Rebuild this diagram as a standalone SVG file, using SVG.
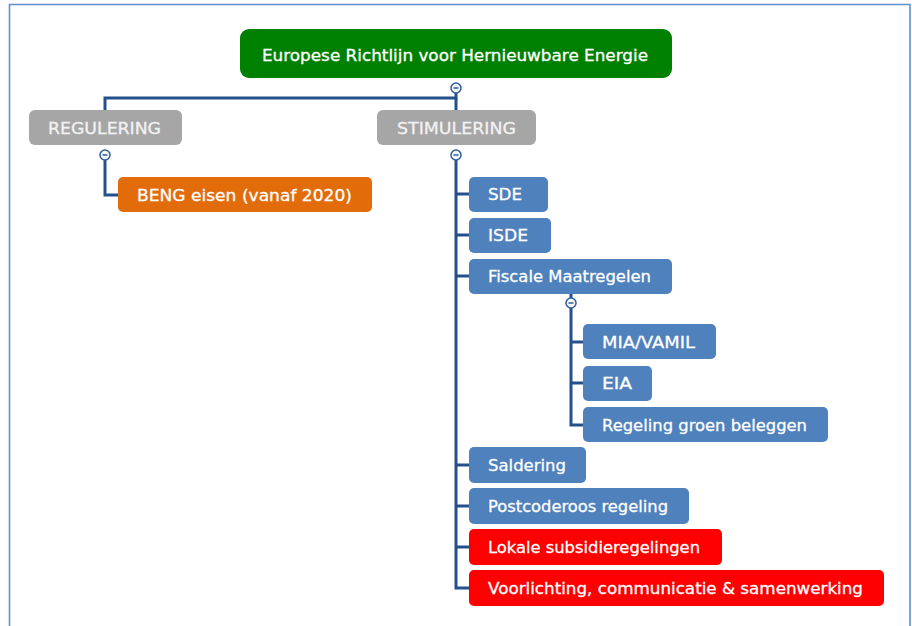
<svg xmlns="http://www.w3.org/2000/svg" width="912" height="626" viewBox="0 0 912 626">
  <style>
    .lbl { font-family: "DejaVu Sans", Verdana, sans-serif; font-size: 16px; fill: #ffffff; stroke: #ffffff; stroke-width: 0.3; dominant-baseline: central; }
    .gray-lbl { fill: #f2f2f2; stroke: #f2f2f2; }
    .green { fill: #008000; }
    .gray { fill: #a6a6a6; }
    .blue { fill: #4f81bd; }
    .orange { fill: #e36c0a; }
    .red { fill: #ff0000; }
    .link { fill: none; stroke: #24508c; stroke-width: 3; }
  </style>
  <defs>
    <!-- collapse toggle: small ring with a minus sign -->
    <g id="minus">
      <circle cx="0" cy="0" r="5" fill="#f4f7fb" stroke="#2f5c98" stroke-width="1.5"/>
      <line x1="-2.5" y1="0" x2="2.5" y2="0" stroke="#2f5c98" stroke-width="1.5"/>
    </g>
  </defs>

  <rect width="912" height="626" fill="#ffffff"/>
  <!-- page frame -->
  <path d="M9.5 640 V4.5 H910 V640" fill="none" stroke="#5f8fcf" stroke-width="1.6"/>

  <!-- connectors -->
  <g id="connectors">
    <path class="link" d="M456 93 V98 H105 V110"/>
    <path class="link" d="M456 98 V110"/>
    <path class="link" d="M105 160 V195 H118"/>
    <path class="link" d="M456 160 V588 H469"/>
    <path class="link" d="M456 194 H469 M456 235 H469 M456 276 H469 M456 465 H469 M456 506 H469 M456 547 H469"/>
    <path class="link" d="M571 294 V298"/>
    <path class="link" d="M571 308 V425 H583 M571 342 H583 M571 383 H583"/>
  </g>

  <!-- collapse toggles -->
  <g id="toggles">
    <use href="#minus" x="456" y="88"/>
    <use href="#minus" x="105" y="155"/>
    <use href="#minus" x="456" y="155"/>
    <use href="#minus" x="571" y="303"/>
  </g>

  <g id="root">
    <rect class="green" x="240" y="29" width="432" height="49" rx="9"/>
    <text class="lbl" x="262" y="55" textLength="386" lengthAdjust="spacingAndGlyphs">Europese Richtlijn voor Hernieuwbare Energie</text>
  </g>

  <g id="regulering">
    <rect class="gray" x="29" y="110" width="153" height="35" rx="6"/>
    <text class="lbl gray-lbl" x="48" y="128" textLength="113" lengthAdjust="spacingAndGlyphs">REGULERING</text>
  </g>

  <g id="stimulering">
    <rect class="gray" x="377" y="110" width="159" height="35" rx="6"/>
    <text class="lbl gray-lbl" x="397" y="128" textLength="119" lengthAdjust="spacingAndGlyphs">STIMULERING</text>
  </g>

  <g id="beng">
    <rect class="orange" x="118" y="177" width="254" height="35" rx="5"/>
    <text class="lbl" x="137" y="195" textLength="215" lengthAdjust="spacingAndGlyphs">BENG eisen (vanaf 2020)</text>
  </g>

  <g id="sde">
    <rect class="blue" x="469" y="177" width="79" height="35" rx="5"/>
    <text class="lbl" x="488" y="194" textLength="34" lengthAdjust="spacingAndGlyphs">SDE</text>
  </g>

  <g id="isde">
    <rect class="blue" x="469" y="218" width="82" height="35" rx="5"/>
    <text class="lbl" x="488" y="235" textLength="40" lengthAdjust="spacingAndGlyphs">ISDE</text>
  </g>

  <g id="fiscale">
    <rect class="blue" x="469" y="259" width="203" height="35" rx="5"/>
    <text class="lbl" x="488" y="276" textLength="163" lengthAdjust="spacingAndGlyphs">Fiscale Maatregelen</text>
  </g>

  <g id="mia-vamil">
    <rect class="blue" x="583" y="324" width="133" height="35" rx="5"/>
    <text class="lbl" x="602" y="342" textLength="93" lengthAdjust="spacingAndGlyphs">MIA/VAMIL</text>
  </g>

  <g id="eia">
    <rect class="blue" x="583" y="366" width="69" height="35" rx="5"/>
    <text class="lbl" x="602" y="383" textLength="30" lengthAdjust="spacingAndGlyphs">EIA</text>
  </g>

  <g id="groen-beleggen">
    <rect class="blue" x="583" y="407" width="245" height="35" rx="5"/>
    <text class="lbl" x="602" y="425" textLength="205" lengthAdjust="spacingAndGlyphs">Regeling groen beleggen</text>
  </g>

  <g id="saldering">
    <rect class="blue" x="469" y="447" width="117" height="36" rx="5"/>
    <text class="lbl" x="488" y="465" textLength="78" lengthAdjust="spacingAndGlyphs">Saldering</text>
  </g>

  <g id="postcoderoos">
    <rect class="blue" x="469" y="488" width="220" height="36" rx="5"/>
    <text class="lbl" x="488" y="506" textLength="180" lengthAdjust="spacingAndGlyphs">Postcoderoos regeling</text>
  </g>

  <g id="lokale">
    <rect class="red" x="469" y="529" width="253" height="36" rx="5"/>
    <text class="lbl" x="488" y="547" textLength="212" lengthAdjust="spacingAndGlyphs">Lokale subsidieregelingen</text>
  </g>

  <g id="voorlichting">
    <rect class="red" x="469" y="570" width="415" height="36" rx="5"/>
    <text class="lbl" x="488" y="588" textLength="375" lengthAdjust="spacingAndGlyphs">Voorlichting, communicatie &amp; samenwerking</text>
  </g>
</svg>
